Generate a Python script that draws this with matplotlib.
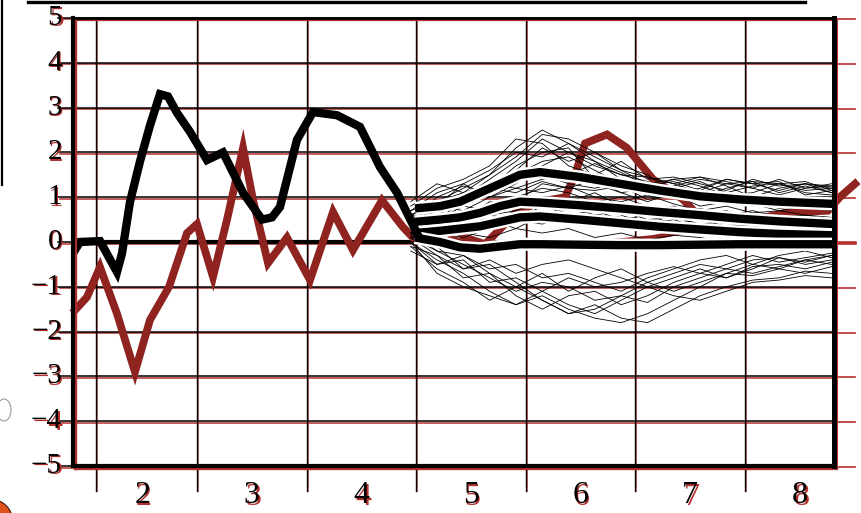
import matplotlib
matplotlib.use("Agg")
import matplotlib.pyplot as plt
from matplotlib import transforms as mtrans
from matplotlib import patheffects as pe
from matplotlib.lines import Line2D
from matplotlib.patches import Ellipse

# ---------------- data ----------------
hist_x = [1.369, 1.432, 1.615, 1.770, 1.816, 1.889, 1.980, 2.071, 2.162, 2.235,
          2.318, 2.436, 2.591, 2.737, 2.920, 3.093, 3.184, 3.257, 3.412, 3.558,
          3.777, 3.987, 4.170, 4.325, 4.507]
hist_black = [-0.25, 0.0, 0.02, -0.67, -0.25, 0.9, 1.8, 2.6, 3.3, 3.25,
              2.88, 2.46, 1.83, 2.0, 1.1, 0.5, 0.55, 0.78, 2.28, 2.9,
              2.83, 2.57, 1.67, 1.1, 0.2]

red_x = [1.387, 1.496, 1.615, 1.770, 1.934, 2.071, 2.245, 2.409, 2.500, 2.646,
         2.774, 2.920, 3.011, 3.148, 3.321, 3.531, 3.741, 3.923, 4.188, 4.380,
         4.489, 4.626, 4.808, 4.945, 5.128, 5.310, 5.401, 5.630, 5.858, 5.949,
         6.040, 6.241, 6.423, 6.661, 6.934, 7.089, 7.500, 7.865, 8.257, 8.365,
         8.504]
red_y = [-1.52, -1.23, -0.56, -1.6, -2.9, -1.74, -1.0, 0.2, 0.4, -0.78,
         0.5, 2.1, 0.94, -0.47, 0.1, -0.85, 0.67, -0.18, 0.93, 0.33,
         0.05, 0.5, 0.45, 0.1, -0.05, 0.4, 0.65, 0.9, 1.0, 1.5,
         2.2, 2.4, 2.1, 1.4, 0.95, 0.55, 0.45, 0.65, 0.7, 1.0,
         1.3]

red2_x = [4.808, 5.082, 5.447, 5.858, 6.241, 6.661, 6.980, 7.250, 7.600]
red2_y = [0.1, -0.1, -0.05, -0.02, 0.0, 0.1, 0.25, 0.28, 0.35]

band_x = [4.489, 4.717, 4.900, 5.082, 5.265, 5.447, 5.630, 5.995, 6.359, 6.724,
          7.089, 7.454, 7.819, 8.312]
band_top = [0.75, 0.8, 0.9, 1.1, 1.3, 1.5, 1.56, 1.45, 1.3, 1.15, 1.02, 0.95, 0.9, 0.85]
band_upper = [0.45, 0.5, 0.55, 0.65, 0.8, 0.9, 0.88, 0.82, 0.75, 0.67, 0.6, 0.52, 0.46, 0.4]
band_lower = [0.2, 0.25, 0.3, 0.35, 0.45, 0.55, 0.57, 0.5, 0.42, 0.34, 0.28, 0.22, 0.18, 0.15]
band_bottom = [0.1, 0.0, -0.12, -0.15, -0.1, -0.05, -0.05, -0.06, -0.07, -0.07, -0.06, -0.05, -0.05, -0.05]

sim_x = [4.45, 4.69, 4.93, 5.17, 5.41, 5.65, 5.89, 6.13, 6.37, 6.61, 6.85, 7.09,
         7.33, 7.57, 7.81, 8.05, 8.29]
sim_upper = [
    [0.6, 0.9, 1.2, 1.5, 2.1, 2.5, 2.2, 1.9, 1.6, 1.3, 1.2, 1.35, 1.1, 1.25, 1.3, 1.15, 1.2],
    [0.5, 0.8, 1.0, 1.4, 1.8, 2.3, 2.0, 1.7, 1.5, 1.45, 1.3, 1.1, 1.3, 1.35, 1.1, 1.25, 1.1],
    [0.7, 1.1, 1.3, 1.6, 2.0, 1.9, 2.2, 1.8, 1.4, 1.2, 1.4, 1.45, 1.25, 1.0, 1.2, 1.3, 1.25],
    [0.4, 0.7, 1.1, 1.2, 1.6, 2.1, 1.8, 2.0, 1.7, 1.5, 1.1, 1.2, 1.4, 1.3, 1.35, 1.05, 1.15],
    [0.8, 1.2, 1.4, 1.7, 2.3, 2.2, 1.7, 1.5, 1.8, 1.4, 1.45, 1.3, 1.15, 1.4, 1.25, 1.3, 1.2],
    [0.3, 0.6, 0.9, 1.3, 1.5, 1.8, 1.9, 1.6, 1.3, 1.1, 1.25, 1.4, 1.3, 1.2, 1.05, 1.2, 1.3],
    [0.5, 1.0, 1.25, 1.1, 1.4, 1.6, 1.5, 1.75, 1.5, 1.35, 1.2, 1.0, 1.2, 1.35, 1.3, 1.1, 1.05],
    [0.6, 0.9, 0.8, 1.2, 1.7, 2.0, 2.1, 1.4, 1.2, 1.3, 1.4, 1.25, 1.05, 1.1, 1.3, 1.35, 1.15],
    [0.9, 1.3, 1.1, 1.5, 1.9, 2.4, 2.3, 2.0, 1.6, 1.45, 1.3, 1.45, 1.35, 1.2, 1.4, 1.2, 1.25],
    [0.4, 0.8, 1.3, 1.0, 1.3, 1.7, 2.0, 1.8, 1.55, 1.25, 1.35, 1.15, 1.4, 1.3, 1.15, 1.3, 1.1],
]
sim_lower = [
    [0.0, -0.4, -0.7, -1.1, -1.4, -1.2, -1.5, -1.7, -1.8, -1.6, -1.3, -1.0, -0.7, -0.75, -0.6, -0.7, -0.55],
    [-0.1, -0.6, -0.9, -1.3, -1.0, -1.3, -1.6, -1.4, -1.7, -1.8, -1.5, -1.2, -1.0, -0.85, -0.8, -0.65, -0.7],
    [0.1, -0.3, -0.8, -0.7, -1.2, -1.5, -1.2, -1.1, -1.4, -1.2, -0.9, -0.7, -0.8, -0.55, -0.5, -0.6, -0.45],
    [-0.2, -0.5, -0.4, -0.9, -0.8, -1.1, -1.4, -1.6, -1.3, -1.0, -1.2, -1.3, -1.1, -0.9, -0.85, -0.75, -0.8],
    [0.2, -0.2, -0.5, -0.8, -1.1, -0.9, -1.0, -1.3, -1.2, -0.9, -0.7, -0.5, -0.6, -0.4, -0.35, -0.45, -0.3],
    [0.0, -0.7, -1.0, -1.2, -1.4, -1.1, -0.8, -1.0, -0.9, -0.7, -0.55, -0.7, -0.5, -0.3, -0.45, -0.35, -0.25],
    [-0.1, -0.3, -0.6, -0.5, -0.9, -1.3, -1.6, -1.5, -1.2, -1.35, -1.0, -0.8, -0.6, -0.7, -0.55, -0.4, -0.5],
    [0.1, -0.2, -0.3, -0.6, -0.5, -0.8, -0.7, -0.9, -1.1, -0.8, -0.6, -0.4, -0.3, -0.5, -0.3, -0.2, -0.35],
    [0.0, -0.5, -0.3, -0.7, -1.0, -0.7, -1.1, -0.8, -0.6, -0.9, -1.1, -0.9, -0.7, -0.5, -0.6, -0.4, -0.3],
    [0.15, -0.1, -0.6, -0.4, -0.7, -0.5, -0.4, -0.6, -0.8, -1.0, -0.8, -0.6, -0.8, -0.6, -0.35, -0.5, -0.4],
]
sim_middle = [
    [0.5, 0.7, 0.9, 1.1, 1.4, 1.5, 1.3, 1.2, 1.35, 1.1, 1.0, 0.9, 1.0, 0.8, 0.9, 0.75, 0.85],
    [0.3, 0.4, 0.6, 0.8, 1.0, 1.2, 1.1, 0.9, 1.0, 0.8, 0.7, 0.75, 0.6, 0.7, 0.55, 0.6, 0.5],
    [0.2, 0.3, 0.5, 0.4, 0.7, 0.9, 0.6, 0.7, 0.5, 0.6, 0.4, 0.5, 0.35, 0.4, 0.3, 0.35, 0.25],
    [0.6, 0.8, 0.7, 1.0, 1.2, 1.1, 1.25, 1.0, 0.9, 1.05, 0.85, 0.7, 0.8, 0.65, 0.7, 0.6, 0.55],
    [0.1, 0.2, 0.1, 0.3, 0.5, 0.4, 0.6, 0.4, 0.3, 0.45, 0.3, 0.2, 0.3, 0.15, 0.25, 0.1, 0.2],
    [0.4, 0.5, 0.8, 0.7, 0.9, 1.3, 1.2, 1.4, 1.1, 0.9, 1.1, 1.0, 0.85, 0.9, 0.75, 0.8, 0.7],
    [0.2, 0.1, 0.3, 0.5, 0.3, 0.6, 0.8, 0.6, 0.7, 0.5, 0.55, 0.4, 0.45, 0.3, 0.35, 0.25, 0.3],
    [0.7, 0.9, 1.1, 1.3, 1.2, 1.4, 1.5, 1.3, 1.1, 1.2, 1.0, 1.1, 0.95, 1.0, 0.9, 0.95, 0.85],
    [0.0, 0.1, 0.2, 0.1, 0.3, 0.2, 0.3, 0.1, 0.2, 0.05, 0.15, 0.1, 0.0, 0.1, 0.05, 0.0, 0.1],
    [0.3, 0.6, 0.5, 0.9, 0.8, 1.0, 0.9, 1.1, 0.8, 0.7, 0.8, 0.6, 0.7, 0.5, 0.6, 0.45, 0.5],
    [0.5, 0.4, 0.7, 0.6, 1.0, 0.8, 0.95, 0.7, 0.8, 0.6, 0.65, 0.5, 0.55, 0.4, 0.45, 0.35, 0.4],
    [0.1, 0.3, 0.4, 0.6, 0.5, 0.8, 0.7, 0.85, 0.6, 0.4, 0.5, 0.3, 0.35, 0.2, 0.3, 0.2, 0.15],
    [0.6, 0.5, 0.9, 1.2, 1.1, 1.35, 1.2, 1.15, 1.25, 0.95, 1.05, 0.8, 0.9, 0.85, 0.7, 0.8, 0.75],
    [0.2, 0.4, 0.3, 0.6, 0.7, 0.6, 0.5, 0.6, 0.55, 0.3, 0.35, 0.25, 0.2, 0.3, 0.15, 0.2, 0.1],
]

y_ticks = [-5, -4, -3, -2, -1, 0, 1, 2, 3, 4, 5]
y_labels = ["\u22125", "\u22124", "\u22123", "\u22122", "\u22121", "0", "1", "2", "3", "4", "5"]
x_label_pos = [2, 3, 4, 5, 6, 7, 8]
x_labels = ["2", "3", "4", "5", "6", "7", "8"]
x_grid = [1.58, 2.5, 3.5, 4.5, 5.5, 6.5, 7.5]

# ---------------- styling ----------------
W, H = 861, 513
RED = "#8e2320"
SHADOW = "#b3302c"
FONT = "Liberation Serif"

fig = plt.figure(figsize=(W / 100, H / 100), dpi=100)
ax = fig.add_axes([73 / W, 1 - 466 / H, (834 - 73) / W, (466 - 18) / H])
ax.set_xlim(1.3686, 8.312)
ax.set_ylim(-5, 5)
ax.set_xticks([])
ax.set_yticks([])
for s in ax.spines.values():
    s.set_visible(False)

def shadow_of(tr, dx=1.5, dy=-1.5):
    return mtrans.offset_copy(tr, fig=fig, x=dx, y=dy, units="dots")

bl = mtrans.blended_transform_factory(ax.transAxes, ax.transData)   # x axes, y data
bl2 = mtrans.blended_transform_factory(ax.transData, ax.transAxes)  # x data, y axes

# horizontal gridlines with red shadow, extending left as ticks
for yv in y_ticks:
    ax.plot([-0.0197, 1.0], [yv, yv], color=SHADOW, lw=1.1, transform=shadow_of(bl),
            clip_on=False, zorder=1)
    ax.plot([-0.0197, 1.0], [yv, yv], color="black", lw=1.1, transform=bl,
            clip_on=False, zorder=1.1)
    # red marks outside right spine
    ax.plot([1.004, 1.027], [yv, yv], color=SHADOW, lw=2.6 if yv == 0 else 1.2,
            transform=shadow_of(bl, 0, -1), clip_on=False, zorder=1)

# vertical gridlines, extending below axes as ticks
for xv in x_grid:
    ax.plot([xv, xv], [-0.055, 1.0], color=SHADOW, lw=0.7, transform=shadow_of(bl2, 1, 0),
            clip_on=False, zorder=1, alpha=0.7)
    ax.plot([xv, xv], [-0.055, 1.0], color="black", lw=1.0, transform=bl2,
            clip_on=False, zorder=1.1)

# zero line
ax.plot([0, 1], [0, 0], color="black", lw=3, transform=bl, zorder=1.2)

# frame
frame = [([0, 0], [0, 1], 3.0), ([0, 1], [0, 0], 3.0), ([1, 1], [0, 1], 3.6), ([0, 1], [1, 1], 2.0)]
for fx, fy, lw in frame:
    ax.plot(fx, fy, color=SHADOW, lw=lw * 0.8, transform=shadow_of(ax.transAxes, 2, -2),
            clip_on=False, zorder=6)
    ax.plot(fx, fy, color="black", lw=lw, transform=ax.transAxes, clip_on=False,
            zorder=6.1, solid_capstyle="projecting")

# red series
ax.plot(red2_x, red2_y, color=RED, lw=3.5, zorder=2)
ax.plot(red_x, red_y, color=RED, lw=5.6, zorder=2.1, clip_on=False,
        solid_joinstyle="miter")

# simulated thin paths
for grp in (sim_upper, sim_lower, sim_middle):
    for path in grp:
        ax.plot(sim_x, path, color="black", lw=0.6, zorder=3)

# percentile bands with white halo
halo = [pe.Stroke(linewidth=9.5, foreground="white"), pe.Normal()]
for band in (band_top, band_upper, band_lower, band_bottom):
    ax.plot(band_x, band, color="black", lw=6, zorder=4, path_effects=halo,
            solid_capstyle="butt")

# black history line
ax.plot(hist_x, hist_black, color="black", lw=6, zorder=5, solid_joinstyle="miter")

# tick labels with red shadow
for yv, lab in zip(y_ticks, y_labels):
    for tr, col in ((shadow_of(bl, 1.5, -1.5), SHADOW), (bl, "black")):
        ax.text(-0.0145, yv, lab, transform=tr, ha="right", va="center",
                fontsize=21, family=FONT, color=col, clip_on=False)
for xv, lab in zip(x_label_pos, x_labels):
    for tr, col in ((shadow_of(bl2, 1.5, -1.5), SHADOW), (bl2, "black")):
        ax.text(xv, -0.066, lab, transform=tr, ha="center", va="center",
                fontsize=23, family=FONT, color=col, clip_on=False)

# decorations outside the chart
fig.add_artist(Line2D([28 / W, 805 / W], [1 - 2 / H, 1 - 2 / H], transform=fig.transFigure,
                      color="black", lw=2.4))
fig.add_artist(Line2D([2 / W, 2 / W], [1, 1 - 185 / H], transform=fig.transFigure,
                      color="black", lw=1.6))
fig.add_artist(Ellipse((-10 / W, 1 - 522 / H), 46 / W, 46 / H, transform=fig.transFigure,
                       facecolor="#e2501c", edgecolor="#3a1a10", lw=0.8))
fig.add_artist(Ellipse((4 / W, 1 - 410 / H), 14 / W, 22 / H, transform=fig.transFigure,
                       facecolor="none", edgecolor="#9a9a9a", lw=0.8))

fig.savefig("out.png", dpi=100)
